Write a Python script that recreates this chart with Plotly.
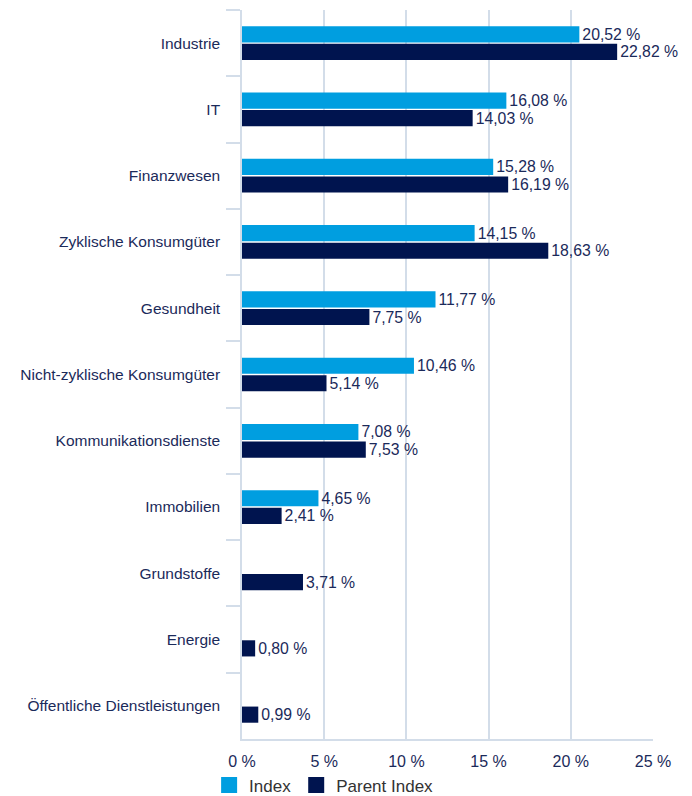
import plotly.graph_objects as go

# Sector weights (in %) for the index and its parent index
sectors = [
    "Industrie",
    "IT",
    "Finanzwesen",
    "Zyklische Konsumgüter",
    "Gesundheit",
    "Nicht-zyklische Konsumgüter",
    "Kommunikationsdienste",
    "Immobilien",
    "Grundstoffe",
    "Energie",
    "Öffentliche Dienstleistungen",
]
index_weights = [20.52, 16.08, 15.28, 14.15, 11.77, 10.46, 7.08, 4.65, None, None, None]
parent_weights = [22.82, 14.03, 16.19, 18.63, 7.75, 5.14, 7.53, 2.41, 3.71, 0.80, 0.99]

x_ticks = [0, 5, 10, 15, 20, 25]

INDEX_COLOR = "#009ee0"
PARENT_COLOR = "#00144f"
TEXT_COLOR = "#1b2a5a"
GRID_COLOR = "#d3dde9"
FONT = "Liberation Sans, Arial, sans-serif"


def fmt(v):
    return "" if v is None else f"{v:.2f}".replace(".", ",") + " %"


fig = go.Figure()
for name, vals, color in [
    ("Index", index_weights, INDEX_COLOR),
    ("Parent Index", parent_weights, PARENT_COLOR),
]:
    fig.add_trace(go.Bar(
        name=name,
        legendgroup=name,
        showlegend=False,
        y=sectors,
        x=vals,
        orientation="h",
        marker=dict(color=color, line=dict(width=0)),
        text=[fmt(v) for v in vals],
        textposition="outside",
        textfont=dict(size=15.8, color=TEXT_COLOR, family=FONT),
        constraintext="none",
        cliponaxis=False,
        hoverinfo="skip",
    ))
    # larger square swatch for the legend entry
    fig.add_trace(go.Scatter(
        name=name,
        legendgroup=name,
        x=[None],
        y=[None],
        mode="markers",
        marker=dict(symbol="square", size=16, color=color),
        hoverinfo="skip",
    ))

fig.update_layout(
    width=692,
    height=796,
    margin=dict(l=242, r=39, t=10, b=57, autoexpand=False),
    paper_bgcolor="white",
    plot_bgcolor="white",
    barmode="group",
    bargap=0.47,
    bargroupgap=0.08,
    font=dict(family=FONT, color=TEXT_COLOR, size=15.5),
    showlegend=True,
    legend=dict(
        orientation="h",
        x=-0.08,
        xanchor="left",
        y=-0.039,
        yanchor="top",
        font=dict(size=17, color="#333333"),
        itemwidth=30,
        traceorder="normal",
        tracegroupgap=0,
    ),
    xaxis=dict(
        range=[0, 25],
        tickvals=x_ticks,
        ticktext=[f"{t} %" for t in x_ticks],
        showgrid=True,
        gridcolor=GRID_COLOR,
        gridwidth=1.5,
        zeroline=False,
        showline=True,
        linecolor=GRID_COLOR,
        linewidth=1.5,
        ticks="",
        tickfont=dict(size=16, color=TEXT_COLOR),
        ticklabelstandoff=7,
    ),
    yaxis=dict(
        autorange="reversed",
        showgrid=False,
        showline=True,
        linecolor=GRID_COLOR,
        linewidth=1.5,
        ticks="outside",
        tickson="boundaries",
        ticklen=14,
        tickcolor=GRID_COLOR,
        tickwidth=1.5,
        tickfont=dict(size=15.5, color=TEXT_COLOR),
        ticklabelstandoff=17,
    ),
)

fig.write_html("out.html")
